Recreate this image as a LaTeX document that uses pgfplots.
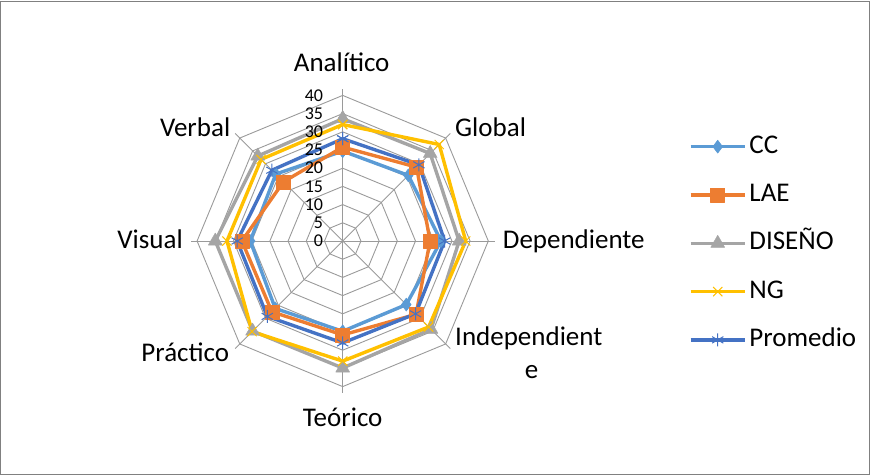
\documentclass[border=0pt]{standalone}
\usepackage{fontspec}
\setmainfont{Carlito}
\usepackage{pgfplots}
\pgfplotsset{compat=1.18}

\definecolor{cc}{HTML}{5B9BD5}
\definecolor{lae}{HTML}{ED7D31}
\definecolor{dis}{HTML}{A5A5A5}
\definecolor{ng}{HTML}{FFC000}
\definecolor{prom}{HTML}{4472C4}
\definecolor{gridc}{HTML}{9A9A9A}

\newcommand{\labf}{\fontsize{27}{32}\selectfont}
\newcommand{\tickf}{\fontsize{18}{21}\selectfont}

\pgfplotsset{series/.style={line width=3.4pt, line join=round}}

\begin{document}
\begin{tikzpicture}
\begin{axis}[
  anchor=origin, at={(0pt,0pt)},
  x=3.64pt, y=3.64pt,
  xmin=-42, xmax=42, ymin=-42, ymax=42,
  hide axis, clip=false,
  data cs=polar,
  legend cell align=left,
  legend image code/.code={%
    \draw[mark repeat=2,mark phase=2,#1]
      plot coordinates {(0pt,0pt) (27pt,0pt) (54pt,0pt)};},
  legend style={
    at={(1.632,0.85)}, anchor=north west,
    draw=none, fill=none, inner sep=0pt,
    font=\labf,
    row sep=23.3pt,
    nodes={inner sep=0pt, text height=19pt, text depth=6pt},
    /tikz/every odd column/.append style={column sep=3pt},
  },
]
% octagonal grid rings
\pgfplotsinvokeforeach{5,10,...,40}{
  \addplot[gridc, line width=0.9pt, line join=miter, forget plot, mark=none]
    coordinates {(90,#1) (45,#1) (0,#1) (315,#1) (270,#1) (225,#1) (180,#1) (135,#1) (90,#1)};
}
% spokes
\pgfplotsinvokeforeach{0,45,...,315}{
  \addplot[gridc, line width=0.9pt, forget plot, mark=none]
    coordinates {(#1,0) (#1,41.8)};
}

% angle order: Analitico 90, Global 45, Dependiente 0, Independiente 315,
% Teorico 270, Practico 225, Visual 180, Verbal 135
\addplot[series, cc, mark=diamond*, mark size=6.5pt, mark options={fill=cc, line width=0.5pt}]
  coordinates {(90,24.7) (45,25.5) (0,27.0) (315,24.7) (270,24.8) (225,26.2) (180,25.4) (135,26.0) (90,24.7)};
\addlegendentry{CC}
\addplot[series, lae, mark=square*, mark size=7pt, mark options={fill=lae, line width=0.5pt}]
  coordinates {(90,25.8) (45,28.7) (0,24.0) (315,28.5) (270,25.8) (225,27.5) (180,27.7) (135,23.0) (90,25.8)};
\addlegendentry{LAE}
\addplot[series, dis, mark=triangle*, mark size=8pt, mark options={fill=dis, line width=0.5pt}]
  coordinates {(90,33.6) (45,34.0) (0,32.0) (315,34.3) (270,34.9) (225,35.0) (180,35.0) (135,33.0) (90,33.6)};
\addlegendentry{DISEÑO}
\addplot[series, ng, mark=x, mark size=6.5pt, mark options={line width=1pt}]
  coordinates {(90,32.0) (45,37.5) (0,33.8) (315,33.4) (270,33.0) (225,35.2) (180,31.8) (135,31.7) (90,32.0)};
\addlegendentry{NG}
\addplot[series, prom, mark=asterisk, mark size=6.5pt, mark options={line width=1pt}]
  coordinates {(90,28.1) (45,29.6) (0,28.0) (315,28.3) (270,28.0) (225,29.3) (180,29.0) (135,27.5) (90,28.1)};
\addlegendentry{Promedio}
\end{axis}

% radial scale labels
\foreach \v in {0,5,...,40}
  \node[anchor=east, inner sep=0pt, font=\tickf] at (-19.5pt,{\v*3.64pt}) {\v};

% category labels
\begin{scope}[every node/.style={inner sep=0pt, font=\labf}]
\node[anchor=base] at (-1pt,169.3pt) {Analítico};
\node[anchor=base west] at (112.3pt,104.3pt) {Global};
\node[anchor=base west] at (160pt,-7.3pt) {Dependiente};
\node[anchor=base west] at (112.3pt,-104pt) {Independient};
\node[anchor=base] at (189pt,-137.3pt) {e};
\node[anchor=base] at (0pt,-185pt) {Teórico};
\node[anchor=base east] at (-113.4pt,-120.7pt) {Práctico};
\node[anchor=base east] at (-159.7pt,-7.3pt) {Visual};
\node[anchor=base east] at (-112.3pt,104.3pt) {Verbal};
\end{scope}

% chart frame
\draw[black!50, line width=1pt] (-341.7pt,-233pt) rectangle (526.3pt,240pt);
\path[use as bounding box] (-342.7pt,-234pt) rectangle (527.3pt,241pt);
\end{tikzpicture}
\end{document}
